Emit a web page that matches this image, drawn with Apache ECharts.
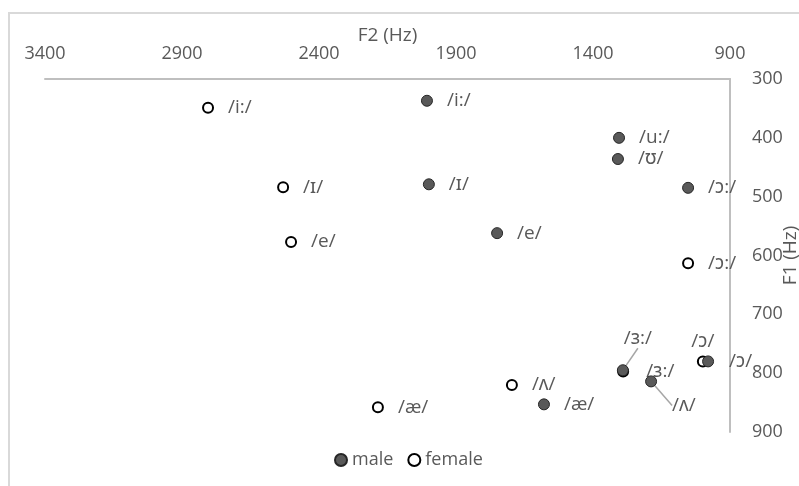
<!DOCTYPE html>
<html>
<head>
<meta charset="utf-8">
<script src="https://cdn.jsdelivr.net/npm/echarts@6/dist/echarts.min.js"></script>
<style>
  html, body { margin: 0; padding: 0; background: #fff; }
  #wrap { position: relative; width: 799px; height: 486px; overflow: hidden; }
  #chart { position: absolute; left: 0; top: 0; width: 799px; height: 486px; }
  #frame { position: absolute; left: 8px; top: 12px; width: 900px; height: 600px;
           border: 2px solid #d9d9d9; pointer-events: none; }
</style>
</head>
<body>
<div id="wrap">
  <div id="frame"></div>
  <div id="chart"></div>
</div>
<script>
// ---- data ----
const xTitle = 'F2 (Hz)';
const yTitle = 'F1 (Hz)';
const seriesNames = ['male', 'female'];

const maleVowels = ['/i:/', '/ɪ/', '/e/', '/æ/', '/ʌ/', '/ɜ:/', '/u:/', '/ʊ/', '/ɔ:/', '/ɔ/'];
const maleF2     = [2006, 1999, 1750, 1579, 1188, 1291, 1305, 1309, 1053, 980];
const maleF1     = [337, 479, 562, 853, 814, 795, 400, 436, 485, 780];

const femaleVowels = ['/i:/', '/ɪ/', '/e/', '/æ/', '/ʌ/', '/ɜ:/', '/ɔ:/', '/ɔ/'];
const femaleF2     = [2805, 2531, 2502, 2185, 1696, 1290, 1053, 999];
const femaleF1     = [349, 484, 577, 858, 820, 797, 613, 780];

const f2Min = 900, f2Max = 3400, f2Step = 500;
const f1Min = 300, f1Max = 900, f1Step = 100;

// ---- style ----
const FONT = '"Open Sans", "Noto Sans", "DejaVu Sans", sans-serif';
const TXT = '#595959';
const AXIS = '#bfbfbf';
const FS = 18;
const LFS = 19;

// per-label placement tweaks (style only)
const maleLabelStyle = {
  '/ɜ:/': { position: 'top', distance: 16, move: [15, 0], line: true },
  '/ʌ/':  { position: 'right', distance: 15, move: [0, 24], line: true, elbow: true },
  '/ɔ/':  { position: 'right', distance: 15 }
};
const femaleLabelStyle = {
  '/ɜ:/': { position: 'right', distance: 17 },
  '/ɔ/':  { position: 'top', distance: 4 }
};

function buildData(names, xs, ys, tweaks) {
  return names.map((n, i) => {
    const item = { name: n, value: [xs[i], ys[i]] };
    const t = tweaks[n];
    if (t) {
      item.label = { position: t.position, distance: t.distance };
      if (t.line) item.labelLine = { show: true, lineStyle: { color: '#a6a6a6', width: 1.5 } };
    }
    return item;
  });
}

function moveLayout(tweaks) {
  return function (params) {
    const t = tweaks[params.text];
    if (!t || !t.move) return {};
    const dx = t.move[0], dy = t.move[1];
    const out = { dx: dx, dy: dy };
    if (t.elbow) {
      const r = params.rect, l = params.labelRect;
      const cx = r.x + r.width / 2;
      const ly = l.y + l.height / 2 + dy;
      out.labelLinePoints = [[cx, r.y + r.height], [cx, ly], [l.x + dx + 2, ly]];
    }
    return out;
  };
}

const chart = echarts.init(document.getElementById('chart'), null, { renderer: 'canvas' });

const labelBase = {
  show: true,
  position: 'right',
  distance: 14,
  formatter: p => p.name,
  color: TXT,
  fontSize: LFS,
  fontFamily: FONT
};

chart.setOption({
  animation: false,
  textStyle: { fontFamily: FONT },
  grid: { left: 45, right: 69, top: 79, bottom: 54, containLabel: false, outerBoundsMode: 'none' },
  legend: {
    data: seriesNames,
    left: 329,
    top: 446,
    itemWidth: 12,
    itemHeight: 12,
    itemGap: 14,
    textStyle: { color: TXT, fontSize: FS, fontFamily: FONT }
  },
  xAxis: {
    type: 'value',
    position: 'top',
    inverse: true,
    min: f2Min, max: f2Max, interval: f2Step,
    name: xTitle,
    nameLocation: 'middle',
    nameGap: 34,
    nameMoveOverlap: false,
    nameTextStyle: { color: TXT, fontSize: LFS, fontFamily: FONT },
    axisLine: { show: true, onZero: false, lineStyle: { color: AXIS, width: 2 } },
    axisTick: { show: false },
    splitLine: { show: false },
    axisLabel: { color: TXT, fontSize: FS, fontFamily: FONT, margin: 16, formatter: v => String(v) }
  },
  yAxis: {
    type: 'value',
    position: 'right',
    inverse: true,
    min: f1Min, max: f1Max, interval: f1Step,
    name: yTitle,
    nameLocation: 'middle',
    nameRotate: 90,
    nameGap: 51,
    nameMoveOverlap: false,
    nameTextStyle: { color: TXT, fontSize: LFS, fontFamily: FONT },
    axisLine: { show: true, onZero: false, lineStyle: { color: AXIS, width: 2 } },
    axisTick: { show: false },
    splitLine: { show: false },
    axisLabel: { color: TXT, fontSize: FS, fontFamily: FONT, margin: 22, formatter: v => String(v) }
  },
  series: [
    {
      name: 'female',
      type: 'scatter',
      symbol: 'circle',
      symbolSize: 10,
      itemStyle: { color: '#ffffff', borderColor: '#000000', borderWidth: 2, opacity: 1 },
      label: labelBase,
      data: buildData(femaleVowels, femaleF2, femaleF1, femaleLabelStyle),
      z: 2
    },
    {
      name: 'male',
      type: 'scatter',
      symbol: 'circle',
      symbolSize: 11,
      itemStyle: { color: '#595959', borderColor: '#262626', borderWidth: 1, opacity: 1 },
      label: labelBase,
      labelLayout: moveLayout(maleLabelStyle),
      data: buildData(maleVowels, maleF2, maleF1, maleLabelStyle),
      z: 3
    }
  ]
});
</script>
</body>
</html>
